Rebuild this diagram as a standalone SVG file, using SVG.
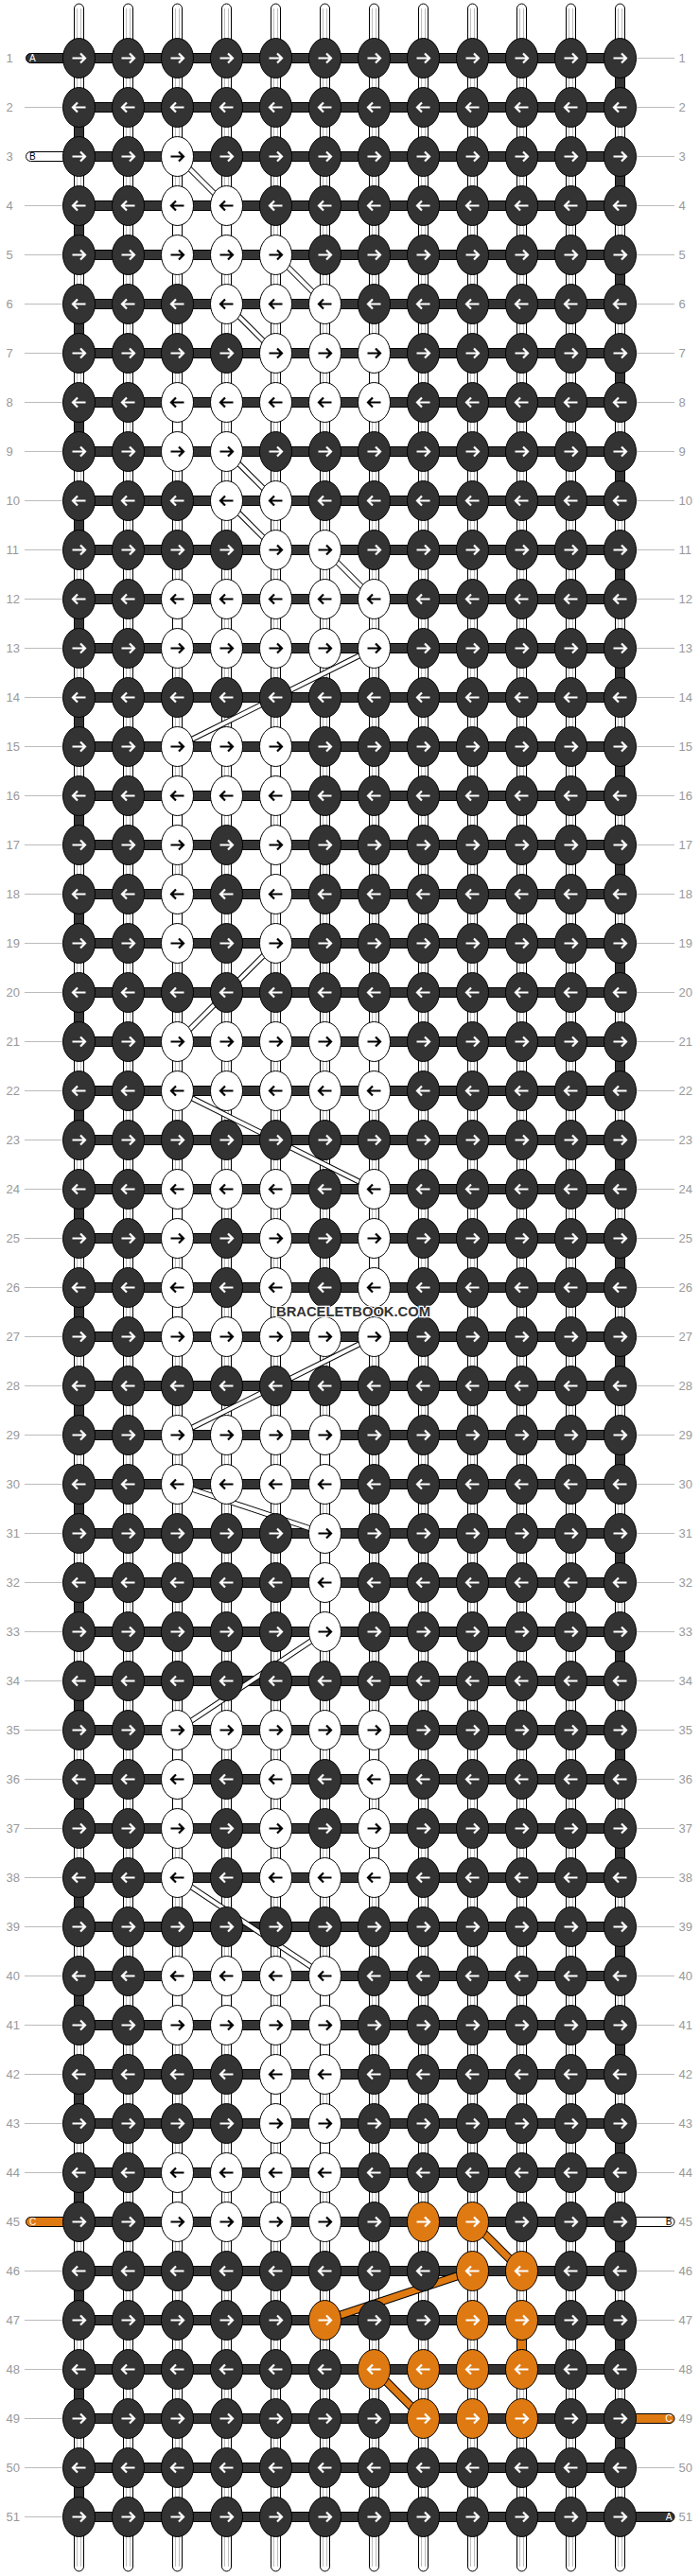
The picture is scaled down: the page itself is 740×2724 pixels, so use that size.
<svg xmlns="http://www.w3.org/2000/svg" xmlns:xlink="http://www.w3.org/1999/xlink" width="740" height="2724" viewBox="0 0 740 2724">
<style>
.tb{fill:#fff;stroke:#000}
.gl{stroke:#bdbdbd;fill:none}
.sd{fill:#333;stroke:#000}
.sw{fill:#fff;stroke:#000}
.so{fill:#df7a12;stroke:#000}
.kd{fill:#333;stroke:#000}
.kw{fill:#fff;stroke:#000}
.ko{fill:#df7a12;stroke:#000}
.aw{fill:none;stroke:#fff;stroke-width:2.2}
.ab{fill:none;stroke:#000;stroke-width:2.2}
.num{font-family:"Liberation Sans",Arial,sans-serif;font-size:13px;fill:#999}
.gr{stroke:#bbb;fill:none}
.lt{font-family:"Liberation Sans",Arial,sans-serif;font-size:10px}
.bdk{fill:none;stroke:#000;stroke-width:6}
.bwh{fill:none;stroke:#fff;stroke-width:4}
.odk{fill:none;stroke:#000;stroke-width:9}
.oor{fill:none;stroke:#df7a12;stroke-width:7}
.wm{font-family:"Liberation Sans",Arial,sans-serif;font-size:14.7px;font-weight:bold;fill:#333;stroke:#fff;stroke-width:2.5;paint-order:stroke}
</style>
<defs>
<g id="dr"><ellipse rx="17" ry="21" class="kd"/><path d="M-7,0H6M1.5,-5L6.5,0L1.5,5" class="aw"/></g>
<g id="dl"><ellipse rx="17" ry="21" class="kd"/><path d="M7,0H-6M-1.5,-5L-6.5,0L-1.5,5" class="aw"/></g>
<g id="wr"><ellipse rx="17" ry="21" class="kw"/><path d="M-7,0H6M1.5,-5L6.5,0L1.5,5" class="ab"/></g>
<g id="wl"><ellipse rx="17" ry="21" class="kw"/><path d="M7,0H-6M-1.5,-5L-6.5,0L-1.5,5" class="ab"/></g>
<g id="or"><ellipse rx="17" ry="21" class="ko"/><path d="M-7,0H6M1.5,-5L6.5,0L1.5,5" class="aw"/></g>
<g id="ol"><ellipse rx="17" ry="21" class="ko"/><path d="M7,0H-6M-1.5,-5L-6.5,0L-1.5,5" class="aw"/></g>
</defs>
<rect width="740" height="2724" fill="#fff"/>
<g id="connectors">
<g id="strings">
<rect x="78.5" y="4" width="10" height="2715" rx="5" class="tb"/>
<rect x="130.5" y="4" width="10" height="2715" rx="5" class="tb"/>
<rect x="182.5" y="4" width="10" height="2715" rx="5" class="tb"/>
<rect x="234.5" y="4" width="10" height="2715" rx="5" class="tb"/>
<rect x="286.5" y="4" width="10" height="2715" rx="5" class="tb"/>
<rect x="338.5" y="4" width="10" height="2715" rx="5" class="tb"/>
<rect x="390.5" y="4" width="10" height="2715" rx="5" class="tb"/>
<rect x="442.5" y="4" width="10" height="2715" rx="5" class="tb"/>
<rect x="494.5" y="4" width="10" height="2715" rx="5" class="tb"/>
<rect x="546.5" y="4" width="10" height="2715" rx="5" class="tb"/>
<rect x="598.5" y="4" width="10" height="2715" rx="5" class="tb"/>
<rect x="650.5" y="4" width="10" height="2715" rx="5" class="tb"/>
<path class="gl" d="M81.5,9V2714M85.5,9V2714M133.5,9V2714M137.5,9V2714M185.5,9V2714M189.5,9V2714M237.5,9V2714M241.5,9V2714M289.5,9V2714M293.5,9V2714M341.5,9V2714M345.5,9V2714M393.5,9V2714M397.5,9V2714M445.5,9V2714M449.5,9V2714M497.5,9V2714M501.5,9V2714M549.5,9V2714M553.5,9V2714M601.5,9V2714M605.5,9V2714M653.5,9V2714M657.5,9V2714"/>
</g>
<path id="turns-a" class="sd" d="M650.5,76.5h10v22h-10zM650.5,180.5h10v22h-10zM650.5,284.5h10v22h-10zM650.5,388.5h10v22h-10zM650.5,492.5h10v22h-10zM650.5,596.5h10v22h-10zM650.5,700.5h10v22h-10zM650.5,804.5h10v22h-10zM650.5,908.5h10v22h-10zM650.5,1012.5h10v22h-10zM650.5,1116.5h10v22h-10zM650.5,1220.5h10v22h-10zM650.5,1324.5h10v22h-10zM650.5,1428.5h10v22h-10zM650.5,1532.5h10v22h-10zM650.5,1636.5h10v22h-10zM650.5,1740.5h10v22h-10zM650.5,1844.5h10v22h-10zM650.5,1948.5h10v22h-10zM650.5,2052.5h10v22h-10zM650.5,2156.5h10v22h-10zM650.5,2260.5h10v22h-10zM650.5,2364.5h10v22h-10zM650.5,2468.5h10v22h-10zM650.5,2572.5h10v22h-10zM78.5,128.5h10v22h-10zM78.5,232.5h10v22h-10zM78.5,336.5h10v22h-10zM78.5,440.5h10v22h-10zM78.5,544.5h10v22h-10zM78.5,648.5h10v22h-10zM78.5,752.5h10v22h-10zM78.5,856.5h10v22h-10zM78.5,960.5h10v22h-10zM78.5,1064.5h10v22h-10zM78.5,1168.5h10v22h-10zM78.5,1272.5h10v22h-10zM78.5,1376.5h10v22h-10zM78.5,1480.5h10v22h-10zM78.5,1584.5h10v22h-10zM78.5,1688.5h10v22h-10zM78.5,1792.5h10v22h-10zM78.5,1896.5h10v22h-10zM78.5,2000.5h10v22h-10zM78.5,2104.5h10v22h-10zM78.5,2208.5h10v22h-10zM78.5,2312.5h10v22h-10zM78.5,2416.5h10v22h-10zM78.5,2520.5h10v22h-10zM78.5,2624.5h10v22h-10z"/>
<path id="carry-b" class="sw" d="M182.5,232.5h10v22h-10zM234.5,232.5h10v22h-10zM390.5,388.5h10v22h-10zM182.5,440.5h10v22h-10zM182.5,648.5h10v22h-10zM286.5,804.5h10v22h-10zM182.5,856.5h10v22h-10zM286.5,908.5h10v22h-10zM182.5,960.5h10v22h-10zM390.5,1116.5h10v22h-10zM182.5,1272.5h10v22h-10zM390.5,1324.5h10v22h-10zM182.5,1376.5h10v22h-10zM338.5,1532.5h10v22h-10zM338.5,1636.5h10v22h-10zM338.5,1688.5h10v22h-10zM182.5,1844.5h10v22h-10zM390.5,1844.5h10v22h-10zM182.5,1896.5h10v22h-10zM390.5,1948.5h10v22h-10zM182.5,2104.5h10v22h-10zM234.5,2104.5h10v22h-10zM338.5,2104.5h10v22h-10zM338.5,2156.5h10v22h-10zM286.5,2208.5h10v22h-10zM338.5,2260.5h10v22h-10zM182.5,2312.5h10v22h-10z"/>
<path id="carry-c" class="so" d="M546.5,2468.5h10v22h-10z"/>
<path id="rows-a" class="sd" d="M83.5,56.5h572v10h-572zM83.5,108.5h572v10h-572zM83.5,160.5h572v10h-572zM83.5,212.5h572v10h-572zM83.5,264.5h572v10h-572zM83.5,316.5h572v10h-572zM83.5,368.5h572v10h-572zM83.5,420.5h572v10h-572zM83.5,472.5h572v10h-572zM83.5,524.5h572v10h-572zM83.5,576.5h572v10h-572zM83.5,628.5h572v10h-572zM83.5,680.5h572v10h-572zM83.5,732.5h572v10h-572zM83.5,784.5h572v10h-572zM83.5,836.5h572v10h-572zM83.5,888.5h572v10h-572zM83.5,940.5h572v10h-572zM83.5,992.5h572v10h-572zM83.5,1044.5h572v10h-572zM83.5,1096.5h572v10h-572zM83.5,1148.5h572v10h-572zM83.5,1200.5h572v10h-572zM83.5,1252.5h572v10h-572zM83.5,1304.5h572v10h-572zM83.5,1356.5h572v10h-572zM83.5,1408.5h572v10h-572zM83.5,1460.5h572v10h-572zM83.5,1512.5h572v10h-572zM83.5,1564.5h572v10h-572zM83.5,1616.5h572v10h-572zM83.5,1668.5h572v10h-572zM83.5,1720.5h572v10h-572zM83.5,1772.5h572v10h-572zM83.5,1824.5h572v10h-572zM83.5,1876.5h572v10h-572zM83.5,1928.5h572v10h-572zM83.5,1980.5h572v10h-572zM83.5,2032.5h572v10h-572zM83.5,2084.5h572v10h-572zM83.5,2136.5h572v10h-572zM83.5,2188.5h572v10h-572zM83.5,2240.5h572v10h-572zM83.5,2292.5h572v10h-572zM83.5,2344.5h572v10h-572zM83.5,2396.5h572v10h-572zM83.5,2448.5h572v10h-572zM83.5,2500.5h572v10h-572zM83.5,2552.5h572v10h-572zM83.5,2604.5h572v10h-572zM83.5,2656.5h572v10h-572z"/>
<g id="path-b">
<path class="bdk" d="M187.5,165.5L239.5,217.5M291.5,269.5L343.5,321.5M239.5,321.5L291.5,373.5M239.5,477.5L291.5,529.5M239.5,529.5L291.5,581.5M343.5,581.5L395.5,633.5M395.5,685.5L187.5,789.5M291.5,997.5L187.5,1101.5M187.5,1153.5L395.5,1257.5M395.5,1413.5L187.5,1517.5M187.5,1569.5L343.5,1621.5M343.5,1725.5L187.5,1829.5M187.5,1985.5L343.5,2089.5"/>
<path class="bwh" d="M187.5,165.5L239.5,217.5M291.5,269.5L343.5,321.5M239.5,321.5L291.5,373.5M239.5,477.5L291.5,529.5M239.5,529.5L291.5,581.5M343.5,581.5L395.5,633.5M395.5,685.5L187.5,789.5M291.5,997.5L187.5,1101.5M187.5,1153.5L395.5,1257.5M395.5,1413.5L187.5,1517.5M187.5,1569.5L343.5,1621.5M343.5,1725.5L187.5,1829.5M187.5,1985.5L343.5,2089.5"/>
</g>
<g id="path-c">
<path class="odk" d="M499.5,2349.5L551.5,2401.5M499.5,2401.5L343.5,2453.5M395.5,2505.5L447.5,2557.5"/>
<path class="oor" d="M499.5,2349.5L551.5,2401.5M499.5,2401.5L343.5,2453.5M395.5,2505.5L447.5,2557.5"/>
</g>
<g id="labels">
<rect x="27.5" y="56.5" width="52" height="10" rx="5" class="sd"/>
<rect x="27.5" y="160.5" width="52" height="10" rx="5" class="sw"/>
<rect x="27.5" y="2344.5" width="52" height="10" rx="5" class="so"/>
<rect x="660.5" y="2344.5" width="52.5" height="10" rx="5" class="sw"/>
<rect x="660.5" y="2552.5" width="52.5" height="10" rx="5" class="so"/>
<rect x="660.5" y="2656.5" width="52.5" height="10" rx="5" class="sd"/>
</g>
<path id="leaders" class="gr" d="M26,113.5H66M26,217.5H66M26,269.5H66M26,321.5H66M26,373.5H66M26,425.5H66M26,477.5H66M26,529.5H66M26,581.5H66M26,633.5H66M26,685.5H66M26,737.5H66M26,789.5H66M26,841.5H66M26,893.5H66M26,945.5H66M26,997.5H66M26,1049.5H66M26,1101.5H66M26,1153.5H66M26,1205.5H66M26,1257.5H66M26,1309.5H66M26,1361.5H66M26,1413.5H66M26,1465.5H66M26,1517.5H66M26,1569.5H66M26,1621.5H66M26,1673.5H66M26,1725.5H66M26,1777.5H66M26,1829.5H66M26,1881.5H66M26,1933.5H66M26,1985.5H66M26,2037.5H66M26,2089.5H66M26,2141.5H66M26,2193.5H66M26,2245.5H66M26,2297.5H66M26,2401.5H66M26,2453.5H66M26,2505.5H66M26,2557.5H66M26,2609.5H66M26,2661.5H66M673,61.5H713M673,113.5H713M673,165.5H713M673,217.5H713M673,269.5H713M673,321.5H713M673,373.5H713M673,425.5H713M673,477.5H713M673,529.5H713M673,581.5H713M673,633.5H713M673,685.5H713M673,737.5H713M673,789.5H713M673,841.5H713M673,893.5H713M673,945.5H713M673,997.5H713M673,1049.5H713M673,1101.5H713M673,1153.5H713M673,1205.5H713M673,1257.5H713M673,1309.5H713M673,1361.5H713M673,1413.5H713M673,1465.5H713M673,1517.5H713M673,1569.5H713M673,1621.5H713M673,1673.5H713M673,1725.5H713M673,1777.5H713M673,1829.5H713M673,1881.5H713M673,1933.5H713M673,1985.5H713M673,2037.5H713M673,2089.5H713M673,2141.5H713M673,2193.5H713M673,2245.5H713M673,2297.5H713M673,2401.5H713M673,2453.5H713M673,2505.5H713M673,2609.5H713"/>
</g>
<g id="knots">
<g id="row1" transform="translate(0,61.5)"><use id="k1-1" href="#dr" x="83.5"/><use id="k1-2" href="#dr" x="135.5"/><use id="k1-3" href="#dr" x="187.5"/><use id="k1-4" href="#dr" x="239.5"/><use id="k1-5" href="#dr" x="291.5"/><use id="k1-6" href="#dr" x="343.5"/><use id="k1-7" href="#dr" x="395.5"/><use id="k1-8" href="#dr" x="447.5"/><use id="k1-9" href="#dr" x="499.5"/><use id="k1-10" href="#dr" x="551.5"/><use id="k1-11" href="#dr" x="603.5"/><use id="k1-12" href="#dr" x="655.5"/></g>
<g id="row2" transform="translate(0,113.5)"><use id="k2-1" href="#dl" x="83.5"/><use id="k2-2" href="#dl" x="135.5"/><use id="k2-3" href="#dl" x="187.5"/><use id="k2-4" href="#dl" x="239.5"/><use id="k2-5" href="#dl" x="291.5"/><use id="k2-6" href="#dl" x="343.5"/><use id="k2-7" href="#dl" x="395.5"/><use id="k2-8" href="#dl" x="447.5"/><use id="k2-9" href="#dl" x="499.5"/><use id="k2-10" href="#dl" x="551.5"/><use id="k2-11" href="#dl" x="603.5"/><use id="k2-12" href="#dl" x="655.5"/></g>
<g id="row3" transform="translate(0,165.5)"><use id="k3-1" href="#dr" x="83.5"/><use id="k3-2" href="#dr" x="135.5"/><use id="k3-3" href="#wr" x="187.5"/><use id="k3-4" href="#dr" x="239.5"/><use id="k3-5" href="#dr" x="291.5"/><use id="k3-6" href="#dr" x="343.5"/><use id="k3-7" href="#dr" x="395.5"/><use id="k3-8" href="#dr" x="447.5"/><use id="k3-9" href="#dr" x="499.5"/><use id="k3-10" href="#dr" x="551.5"/><use id="k3-11" href="#dr" x="603.5"/><use id="k3-12" href="#dr" x="655.5"/></g>
<g id="row4" transform="translate(0,217.5)"><use id="k4-1" href="#dl" x="83.5"/><use id="k4-2" href="#dl" x="135.5"/><use id="k4-3" href="#wl" x="187.5"/><use id="k4-4" href="#wl" x="239.5"/><use id="k4-5" href="#dl" x="291.5"/><use id="k4-6" href="#dl" x="343.5"/><use id="k4-7" href="#dl" x="395.5"/><use id="k4-8" href="#dl" x="447.5"/><use id="k4-9" href="#dl" x="499.5"/><use id="k4-10" href="#dl" x="551.5"/><use id="k4-11" href="#dl" x="603.5"/><use id="k4-12" href="#dl" x="655.5"/></g>
<g id="row5" transform="translate(0,269.5)"><use id="k5-1" href="#dr" x="83.5"/><use id="k5-2" href="#dr" x="135.5"/><use id="k5-3" href="#wr" x="187.5"/><use id="k5-4" href="#wr" x="239.5"/><use id="k5-5" href="#wr" x="291.5"/><use id="k5-6" href="#dr" x="343.5"/><use id="k5-7" href="#dr" x="395.5"/><use id="k5-8" href="#dr" x="447.5"/><use id="k5-9" href="#dr" x="499.5"/><use id="k5-10" href="#dr" x="551.5"/><use id="k5-11" href="#dr" x="603.5"/><use id="k5-12" href="#dr" x="655.5"/></g>
<g id="row6" transform="translate(0,321.5)"><use id="k6-1" href="#dl" x="83.5"/><use id="k6-2" href="#dl" x="135.5"/><use id="k6-3" href="#dl" x="187.5"/><use id="k6-4" href="#wl" x="239.5"/><use id="k6-5" href="#wl" x="291.5"/><use id="k6-6" href="#wl" x="343.5"/><use id="k6-7" href="#dl" x="395.5"/><use id="k6-8" href="#dl" x="447.5"/><use id="k6-9" href="#dl" x="499.5"/><use id="k6-10" href="#dl" x="551.5"/><use id="k6-11" href="#dl" x="603.5"/><use id="k6-12" href="#dl" x="655.5"/></g>
<g id="row7" transform="translate(0,373.5)"><use id="k7-1" href="#dr" x="83.5"/><use id="k7-2" href="#dr" x="135.5"/><use id="k7-3" href="#dr" x="187.5"/><use id="k7-4" href="#dr" x="239.5"/><use id="k7-5" href="#wr" x="291.5"/><use id="k7-6" href="#wr" x="343.5"/><use id="k7-7" href="#wr" x="395.5"/><use id="k7-8" href="#dr" x="447.5"/><use id="k7-9" href="#dr" x="499.5"/><use id="k7-10" href="#dr" x="551.5"/><use id="k7-11" href="#dr" x="603.5"/><use id="k7-12" href="#dr" x="655.5"/></g>
<g id="row8" transform="translate(0,425.5)"><use id="k8-1" href="#dl" x="83.5"/><use id="k8-2" href="#dl" x="135.5"/><use id="k8-3" href="#wl" x="187.5"/><use id="k8-4" href="#wl" x="239.5"/><use id="k8-5" href="#wl" x="291.5"/><use id="k8-6" href="#wl" x="343.5"/><use id="k8-7" href="#wl" x="395.5"/><use id="k8-8" href="#dl" x="447.5"/><use id="k8-9" href="#dl" x="499.5"/><use id="k8-10" href="#dl" x="551.5"/><use id="k8-11" href="#dl" x="603.5"/><use id="k8-12" href="#dl" x="655.5"/></g>
<g id="row9" transform="translate(0,477.5)"><use id="k9-1" href="#dr" x="83.5"/><use id="k9-2" href="#dr" x="135.5"/><use id="k9-3" href="#wr" x="187.5"/><use id="k9-4" href="#wr" x="239.5"/><use id="k9-5" href="#dr" x="291.5"/><use id="k9-6" href="#dr" x="343.5"/><use id="k9-7" href="#dr" x="395.5"/><use id="k9-8" href="#dr" x="447.5"/><use id="k9-9" href="#dr" x="499.5"/><use id="k9-10" href="#dr" x="551.5"/><use id="k9-11" href="#dr" x="603.5"/><use id="k9-12" href="#dr" x="655.5"/></g>
<g id="row10" transform="translate(0,529.5)"><use id="k10-1" href="#dl" x="83.5"/><use id="k10-2" href="#dl" x="135.5"/><use id="k10-3" href="#dl" x="187.5"/><use id="k10-4" href="#wl" x="239.5"/><use id="k10-5" href="#wl" x="291.5"/><use id="k10-6" href="#dl" x="343.5"/><use id="k10-7" href="#dl" x="395.5"/><use id="k10-8" href="#dl" x="447.5"/><use id="k10-9" href="#dl" x="499.5"/><use id="k10-10" href="#dl" x="551.5"/><use id="k10-11" href="#dl" x="603.5"/><use id="k10-12" href="#dl" x="655.5"/></g>
<g id="row11" transform="translate(0,581.5)"><use id="k11-1" href="#dr" x="83.5"/><use id="k11-2" href="#dr" x="135.5"/><use id="k11-3" href="#dr" x="187.5"/><use id="k11-4" href="#dr" x="239.5"/><use id="k11-5" href="#wr" x="291.5"/><use id="k11-6" href="#wr" x="343.5"/><use id="k11-7" href="#dr" x="395.5"/><use id="k11-8" href="#dr" x="447.5"/><use id="k11-9" href="#dr" x="499.5"/><use id="k11-10" href="#dr" x="551.5"/><use id="k11-11" href="#dr" x="603.5"/><use id="k11-12" href="#dr" x="655.5"/></g>
<g id="row12" transform="translate(0,633.5)"><use id="k12-1" href="#dl" x="83.5"/><use id="k12-2" href="#dl" x="135.5"/><use id="k12-3" href="#wl" x="187.5"/><use id="k12-4" href="#wl" x="239.5"/><use id="k12-5" href="#wl" x="291.5"/><use id="k12-6" href="#wl" x="343.5"/><use id="k12-7" href="#wl" x="395.5"/><use id="k12-8" href="#dl" x="447.5"/><use id="k12-9" href="#dl" x="499.5"/><use id="k12-10" href="#dl" x="551.5"/><use id="k12-11" href="#dl" x="603.5"/><use id="k12-12" href="#dl" x="655.5"/></g>
<g id="row13" transform="translate(0,685.5)"><use id="k13-1" href="#dr" x="83.5"/><use id="k13-2" href="#dr" x="135.5"/><use id="k13-3" href="#wr" x="187.5"/><use id="k13-4" href="#wr" x="239.5"/><use id="k13-5" href="#wr" x="291.5"/><use id="k13-6" href="#wr" x="343.5"/><use id="k13-7" href="#wr" x="395.5"/><use id="k13-8" href="#dr" x="447.5"/><use id="k13-9" href="#dr" x="499.5"/><use id="k13-10" href="#dr" x="551.5"/><use id="k13-11" href="#dr" x="603.5"/><use id="k13-12" href="#dr" x="655.5"/></g>
<g id="row14" transform="translate(0,737.5)"><use id="k14-1" href="#dl" x="83.5"/><use id="k14-2" href="#dl" x="135.5"/><use id="k14-3" href="#dl" x="187.5"/><use id="k14-4" href="#dl" x="239.5"/><use id="k14-5" href="#dl" x="291.5"/><use id="k14-6" href="#dl" x="343.5"/><use id="k14-7" href="#dl" x="395.5"/><use id="k14-8" href="#dl" x="447.5"/><use id="k14-9" href="#dl" x="499.5"/><use id="k14-10" href="#dl" x="551.5"/><use id="k14-11" href="#dl" x="603.5"/><use id="k14-12" href="#dl" x="655.5"/></g>
<g id="row15" transform="translate(0,789.5)"><use id="k15-1" href="#dr" x="83.5"/><use id="k15-2" href="#dr" x="135.5"/><use id="k15-3" href="#wr" x="187.5"/><use id="k15-4" href="#wr" x="239.5"/><use id="k15-5" href="#wr" x="291.5"/><use id="k15-6" href="#dr" x="343.5"/><use id="k15-7" href="#dr" x="395.5"/><use id="k15-8" href="#dr" x="447.5"/><use id="k15-9" href="#dr" x="499.5"/><use id="k15-10" href="#dr" x="551.5"/><use id="k15-11" href="#dr" x="603.5"/><use id="k15-12" href="#dr" x="655.5"/></g>
<g id="row16" transform="translate(0,841.5)"><use id="k16-1" href="#dl" x="83.5"/><use id="k16-2" href="#dl" x="135.5"/><use id="k16-3" href="#wl" x="187.5"/><use id="k16-4" href="#wl" x="239.5"/><use id="k16-5" href="#wl" x="291.5"/><use id="k16-6" href="#dl" x="343.5"/><use id="k16-7" href="#dl" x="395.5"/><use id="k16-8" href="#dl" x="447.5"/><use id="k16-9" href="#dl" x="499.5"/><use id="k16-10" href="#dl" x="551.5"/><use id="k16-11" href="#dl" x="603.5"/><use id="k16-12" href="#dl" x="655.5"/></g>
<g id="row17" transform="translate(0,893.5)"><use id="k17-1" href="#dr" x="83.5"/><use id="k17-2" href="#dr" x="135.5"/><use id="k17-3" href="#wr" x="187.5"/><use id="k17-4" href="#dr" x="239.5"/><use id="k17-5" href="#wr" x="291.5"/><use id="k17-6" href="#dr" x="343.5"/><use id="k17-7" href="#dr" x="395.5"/><use id="k17-8" href="#dr" x="447.5"/><use id="k17-9" href="#dr" x="499.5"/><use id="k17-10" href="#dr" x="551.5"/><use id="k17-11" href="#dr" x="603.5"/><use id="k17-12" href="#dr" x="655.5"/></g>
<g id="row18" transform="translate(0,945.5)"><use id="k18-1" href="#dl" x="83.5"/><use id="k18-2" href="#dl" x="135.5"/><use id="k18-3" href="#wl" x="187.5"/><use id="k18-4" href="#dl" x="239.5"/><use id="k18-5" href="#wl" x="291.5"/><use id="k18-6" href="#dl" x="343.5"/><use id="k18-7" href="#dl" x="395.5"/><use id="k18-8" href="#dl" x="447.5"/><use id="k18-9" href="#dl" x="499.5"/><use id="k18-10" href="#dl" x="551.5"/><use id="k18-11" href="#dl" x="603.5"/><use id="k18-12" href="#dl" x="655.5"/></g>
<g id="row19" transform="translate(0,997.5)"><use id="k19-1" href="#dr" x="83.5"/><use id="k19-2" href="#dr" x="135.5"/><use id="k19-3" href="#wr" x="187.5"/><use id="k19-4" href="#dr" x="239.5"/><use id="k19-5" href="#wr" x="291.5"/><use id="k19-6" href="#dr" x="343.5"/><use id="k19-7" href="#dr" x="395.5"/><use id="k19-8" href="#dr" x="447.5"/><use id="k19-9" href="#dr" x="499.5"/><use id="k19-10" href="#dr" x="551.5"/><use id="k19-11" href="#dr" x="603.5"/><use id="k19-12" href="#dr" x="655.5"/></g>
<g id="row20" transform="translate(0,1049.5)"><use id="k20-1" href="#dl" x="83.5"/><use id="k20-2" href="#dl" x="135.5"/><use id="k20-3" href="#dl" x="187.5"/><use id="k20-4" href="#dl" x="239.5"/><use id="k20-5" href="#dl" x="291.5"/><use id="k20-6" href="#dl" x="343.5"/><use id="k20-7" href="#dl" x="395.5"/><use id="k20-8" href="#dl" x="447.5"/><use id="k20-9" href="#dl" x="499.5"/><use id="k20-10" href="#dl" x="551.5"/><use id="k20-11" href="#dl" x="603.5"/><use id="k20-12" href="#dl" x="655.5"/></g>
<g id="row21" transform="translate(0,1101.5)"><use id="k21-1" href="#dr" x="83.5"/><use id="k21-2" href="#dr" x="135.5"/><use id="k21-3" href="#wr" x="187.5"/><use id="k21-4" href="#wr" x="239.5"/><use id="k21-5" href="#wr" x="291.5"/><use id="k21-6" href="#wr" x="343.5"/><use id="k21-7" href="#wr" x="395.5"/><use id="k21-8" href="#dr" x="447.5"/><use id="k21-9" href="#dr" x="499.5"/><use id="k21-10" href="#dr" x="551.5"/><use id="k21-11" href="#dr" x="603.5"/><use id="k21-12" href="#dr" x="655.5"/></g>
<g id="row22" transform="translate(0,1153.5)"><use id="k22-1" href="#dl" x="83.5"/><use id="k22-2" href="#dl" x="135.5"/><use id="k22-3" href="#wl" x="187.5"/><use id="k22-4" href="#wl" x="239.5"/><use id="k22-5" href="#wl" x="291.5"/><use id="k22-6" href="#wl" x="343.5"/><use id="k22-7" href="#wl" x="395.5"/><use id="k22-8" href="#dl" x="447.5"/><use id="k22-9" href="#dl" x="499.5"/><use id="k22-10" href="#dl" x="551.5"/><use id="k22-11" href="#dl" x="603.5"/><use id="k22-12" href="#dl" x="655.5"/></g>
<g id="row23" transform="translate(0,1205.5)"><use id="k23-1" href="#dr" x="83.5"/><use id="k23-2" href="#dr" x="135.5"/><use id="k23-3" href="#dr" x="187.5"/><use id="k23-4" href="#dr" x="239.5"/><use id="k23-5" href="#dr" x="291.5"/><use id="k23-6" href="#dr" x="343.5"/><use id="k23-7" href="#dr" x="395.5"/><use id="k23-8" href="#dr" x="447.5"/><use id="k23-9" href="#dr" x="499.5"/><use id="k23-10" href="#dr" x="551.5"/><use id="k23-11" href="#dr" x="603.5"/><use id="k23-12" href="#dr" x="655.5"/></g>
<g id="row24" transform="translate(0,1257.5)"><use id="k24-1" href="#dl" x="83.5"/><use id="k24-2" href="#dl" x="135.5"/><use id="k24-3" href="#wl" x="187.5"/><use id="k24-4" href="#wl" x="239.5"/><use id="k24-5" href="#wl" x="291.5"/><use id="k24-6" href="#dl" x="343.5"/><use id="k24-7" href="#wl" x="395.5"/><use id="k24-8" href="#dl" x="447.5"/><use id="k24-9" href="#dl" x="499.5"/><use id="k24-10" href="#dl" x="551.5"/><use id="k24-11" href="#dl" x="603.5"/><use id="k24-12" href="#dl" x="655.5"/></g>
<g id="row25" transform="translate(0,1309.5)"><use id="k25-1" href="#dr" x="83.5"/><use id="k25-2" href="#dr" x="135.5"/><use id="k25-3" href="#wr" x="187.5"/><use id="k25-4" href="#dr" x="239.5"/><use id="k25-5" href="#wr" x="291.5"/><use id="k25-6" href="#dr" x="343.5"/><use id="k25-7" href="#wr" x="395.5"/><use id="k25-8" href="#dr" x="447.5"/><use id="k25-9" href="#dr" x="499.5"/><use id="k25-10" href="#dr" x="551.5"/><use id="k25-11" href="#dr" x="603.5"/><use id="k25-12" href="#dr" x="655.5"/></g>
<g id="row26" transform="translate(0,1361.5)"><use id="k26-1" href="#dl" x="83.5"/><use id="k26-2" href="#dl" x="135.5"/><use id="k26-3" href="#wl" x="187.5"/><use id="k26-4" href="#dl" x="239.5"/><use id="k26-5" href="#wl" x="291.5"/><use id="k26-6" href="#dl" x="343.5"/><use id="k26-7" href="#wl" x="395.5"/><use id="k26-8" href="#dl" x="447.5"/><use id="k26-9" href="#dl" x="499.5"/><use id="k26-10" href="#dl" x="551.5"/><use id="k26-11" href="#dl" x="603.5"/><use id="k26-12" href="#dl" x="655.5"/></g>
<g id="row27" transform="translate(0,1413.5)"><use id="k27-1" href="#dr" x="83.5"/><use id="k27-2" href="#dr" x="135.5"/><use id="k27-3" href="#wr" x="187.5"/><use id="k27-4" href="#wr" x="239.5"/><use id="k27-5" href="#wr" x="291.5"/><use id="k27-6" href="#wr" x="343.5"/><use id="k27-7" href="#wr" x="395.5"/><use id="k27-8" href="#dr" x="447.5"/><use id="k27-9" href="#dr" x="499.5"/><use id="k27-10" href="#dr" x="551.5"/><use id="k27-11" href="#dr" x="603.5"/><use id="k27-12" href="#dr" x="655.5"/></g>
<g id="row28" transform="translate(0,1465.5)"><use id="k28-1" href="#dl" x="83.5"/><use id="k28-2" href="#dl" x="135.5"/><use id="k28-3" href="#dl" x="187.5"/><use id="k28-4" href="#dl" x="239.5"/><use id="k28-5" href="#dl" x="291.5"/><use id="k28-6" href="#dl" x="343.5"/><use id="k28-7" href="#dl" x="395.5"/><use id="k28-8" href="#dl" x="447.5"/><use id="k28-9" href="#dl" x="499.5"/><use id="k28-10" href="#dl" x="551.5"/><use id="k28-11" href="#dl" x="603.5"/><use id="k28-12" href="#dl" x="655.5"/></g>
<g id="row29" transform="translate(0,1517.5)"><use id="k29-1" href="#dr" x="83.5"/><use id="k29-2" href="#dr" x="135.5"/><use id="k29-3" href="#wr" x="187.5"/><use id="k29-4" href="#wr" x="239.5"/><use id="k29-5" href="#wr" x="291.5"/><use id="k29-6" href="#wr" x="343.5"/><use id="k29-7" href="#dr" x="395.5"/><use id="k29-8" href="#dr" x="447.5"/><use id="k29-9" href="#dr" x="499.5"/><use id="k29-10" href="#dr" x="551.5"/><use id="k29-11" href="#dr" x="603.5"/><use id="k29-12" href="#dr" x="655.5"/></g>
<g id="row30" transform="translate(0,1569.5)"><use id="k30-1" href="#dl" x="83.5"/><use id="k30-2" href="#dl" x="135.5"/><use id="k30-3" href="#wl" x="187.5"/><use id="k30-4" href="#wl" x="239.5"/><use id="k30-5" href="#wl" x="291.5"/><use id="k30-6" href="#wl" x="343.5"/><use id="k30-7" href="#dl" x="395.5"/><use id="k30-8" href="#dl" x="447.5"/><use id="k30-9" href="#dl" x="499.5"/><use id="k30-10" href="#dl" x="551.5"/><use id="k30-11" href="#dl" x="603.5"/><use id="k30-12" href="#dl" x="655.5"/></g>
<g id="row31" transform="translate(0,1621.5)"><use id="k31-1" href="#dr" x="83.5"/><use id="k31-2" href="#dr" x="135.5"/><use id="k31-3" href="#dr" x="187.5"/><use id="k31-4" href="#dr" x="239.5"/><use id="k31-5" href="#dr" x="291.5"/><use id="k31-6" href="#wr" x="343.5"/><use id="k31-7" href="#dr" x="395.5"/><use id="k31-8" href="#dr" x="447.5"/><use id="k31-9" href="#dr" x="499.5"/><use id="k31-10" href="#dr" x="551.5"/><use id="k31-11" href="#dr" x="603.5"/><use id="k31-12" href="#dr" x="655.5"/></g>
<g id="row32" transform="translate(0,1673.5)"><use id="k32-1" href="#dl" x="83.5"/><use id="k32-2" href="#dl" x="135.5"/><use id="k32-3" href="#dl" x="187.5"/><use id="k32-4" href="#dl" x="239.5"/><use id="k32-5" href="#dl" x="291.5"/><use id="k32-6" href="#wl" x="343.5"/><use id="k32-7" href="#dl" x="395.5"/><use id="k32-8" href="#dl" x="447.5"/><use id="k32-9" href="#dl" x="499.5"/><use id="k32-10" href="#dl" x="551.5"/><use id="k32-11" href="#dl" x="603.5"/><use id="k32-12" href="#dl" x="655.5"/></g>
<g id="row33" transform="translate(0,1725.5)"><use id="k33-1" href="#dr" x="83.5"/><use id="k33-2" href="#dr" x="135.5"/><use id="k33-3" href="#dr" x="187.5"/><use id="k33-4" href="#dr" x="239.5"/><use id="k33-5" href="#dr" x="291.5"/><use id="k33-6" href="#wr" x="343.5"/><use id="k33-7" href="#dr" x="395.5"/><use id="k33-8" href="#dr" x="447.5"/><use id="k33-9" href="#dr" x="499.5"/><use id="k33-10" href="#dr" x="551.5"/><use id="k33-11" href="#dr" x="603.5"/><use id="k33-12" href="#dr" x="655.5"/></g>
<g id="row34" transform="translate(0,1777.5)"><use id="k34-1" href="#dl" x="83.5"/><use id="k34-2" href="#dl" x="135.5"/><use id="k34-3" href="#dl" x="187.5"/><use id="k34-4" href="#dl" x="239.5"/><use id="k34-5" href="#dl" x="291.5"/><use id="k34-6" href="#dl" x="343.5"/><use id="k34-7" href="#dl" x="395.5"/><use id="k34-8" href="#dl" x="447.5"/><use id="k34-9" href="#dl" x="499.5"/><use id="k34-10" href="#dl" x="551.5"/><use id="k34-11" href="#dl" x="603.5"/><use id="k34-12" href="#dl" x="655.5"/></g>
<g id="row35" transform="translate(0,1829.5)"><use id="k35-1" href="#dr" x="83.5"/><use id="k35-2" href="#dr" x="135.5"/><use id="k35-3" href="#wr" x="187.5"/><use id="k35-4" href="#wr" x="239.5"/><use id="k35-5" href="#wr" x="291.5"/><use id="k35-6" href="#wr" x="343.5"/><use id="k35-7" href="#wr" x="395.5"/><use id="k35-8" href="#dr" x="447.5"/><use id="k35-9" href="#dr" x="499.5"/><use id="k35-10" href="#dr" x="551.5"/><use id="k35-11" href="#dr" x="603.5"/><use id="k35-12" href="#dr" x="655.5"/></g>
<g id="row36" transform="translate(0,1881.5)"><use id="k36-1" href="#dl" x="83.5"/><use id="k36-2" href="#dl" x="135.5"/><use id="k36-3" href="#wl" x="187.5"/><use id="k36-4" href="#dl" x="239.5"/><use id="k36-5" href="#wl" x="291.5"/><use id="k36-6" href="#dl" x="343.5"/><use id="k36-7" href="#wl" x="395.5"/><use id="k36-8" href="#dl" x="447.5"/><use id="k36-9" href="#dl" x="499.5"/><use id="k36-10" href="#dl" x="551.5"/><use id="k36-11" href="#dl" x="603.5"/><use id="k36-12" href="#dl" x="655.5"/></g>
<g id="row37" transform="translate(0,1933.5)"><use id="k37-1" href="#dr" x="83.5"/><use id="k37-2" href="#dr" x="135.5"/><use id="k37-3" href="#wr" x="187.5"/><use id="k37-4" href="#dr" x="239.5"/><use id="k37-5" href="#wr" x="291.5"/><use id="k37-6" href="#dr" x="343.5"/><use id="k37-7" href="#wr" x="395.5"/><use id="k37-8" href="#dr" x="447.5"/><use id="k37-9" href="#dr" x="499.5"/><use id="k37-10" href="#dr" x="551.5"/><use id="k37-11" href="#dr" x="603.5"/><use id="k37-12" href="#dr" x="655.5"/></g>
<g id="row38" transform="translate(0,1985.5)"><use id="k38-1" href="#dl" x="83.5"/><use id="k38-2" href="#dl" x="135.5"/><use id="k38-3" href="#wl" x="187.5"/><use id="k38-4" href="#dl" x="239.5"/><use id="k38-5" href="#wl" x="291.5"/><use id="k38-6" href="#wl" x="343.5"/><use id="k38-7" href="#wl" x="395.5"/><use id="k38-8" href="#dl" x="447.5"/><use id="k38-9" href="#dl" x="499.5"/><use id="k38-10" href="#dl" x="551.5"/><use id="k38-11" href="#dl" x="603.5"/><use id="k38-12" href="#dl" x="655.5"/></g>
<g id="row39" transform="translate(0,2037.5)"><use id="k39-1" href="#dr" x="83.5"/><use id="k39-2" href="#dr" x="135.5"/><use id="k39-3" href="#dr" x="187.5"/><use id="k39-4" href="#dr" x="239.5"/><use id="k39-5" href="#dr" x="291.5"/><use id="k39-6" href="#dr" x="343.5"/><use id="k39-7" href="#dr" x="395.5"/><use id="k39-8" href="#dr" x="447.5"/><use id="k39-9" href="#dr" x="499.5"/><use id="k39-10" href="#dr" x="551.5"/><use id="k39-11" href="#dr" x="603.5"/><use id="k39-12" href="#dr" x="655.5"/></g>
<g id="row40" transform="translate(0,2089.5)"><use id="k40-1" href="#dl" x="83.5"/><use id="k40-2" href="#dl" x="135.5"/><use id="k40-3" href="#wl" x="187.5"/><use id="k40-4" href="#wl" x="239.5"/><use id="k40-5" href="#wl" x="291.5"/><use id="k40-6" href="#wl" x="343.5"/><use id="k40-7" href="#dl" x="395.5"/><use id="k40-8" href="#dl" x="447.5"/><use id="k40-9" href="#dl" x="499.5"/><use id="k40-10" href="#dl" x="551.5"/><use id="k40-11" href="#dl" x="603.5"/><use id="k40-12" href="#dl" x="655.5"/></g>
<g id="row41" transform="translate(0,2141.5)"><use id="k41-1" href="#dr" x="83.5"/><use id="k41-2" href="#dr" x="135.5"/><use id="k41-3" href="#wr" x="187.5"/><use id="k41-4" href="#wr" x="239.5"/><use id="k41-5" href="#wr" x="291.5"/><use id="k41-6" href="#wr" x="343.5"/><use id="k41-7" href="#dr" x="395.5"/><use id="k41-8" href="#dr" x="447.5"/><use id="k41-9" href="#dr" x="499.5"/><use id="k41-10" href="#dr" x="551.5"/><use id="k41-11" href="#dr" x="603.5"/><use id="k41-12" href="#dr" x="655.5"/></g>
<g id="row42" transform="translate(0,2193.5)"><use id="k42-1" href="#dl" x="83.5"/><use id="k42-2" href="#dl" x="135.5"/><use id="k42-3" href="#dl" x="187.5"/><use id="k42-4" href="#dl" x="239.5"/><use id="k42-5" href="#wl" x="291.5"/><use id="k42-6" href="#wl" x="343.5"/><use id="k42-7" href="#dl" x="395.5"/><use id="k42-8" href="#dl" x="447.5"/><use id="k42-9" href="#dl" x="499.5"/><use id="k42-10" href="#dl" x="551.5"/><use id="k42-11" href="#dl" x="603.5"/><use id="k42-12" href="#dl" x="655.5"/></g>
<g id="row43" transform="translate(0,2245.5)"><use id="k43-1" href="#dr" x="83.5"/><use id="k43-2" href="#dr" x="135.5"/><use id="k43-3" href="#dr" x="187.5"/><use id="k43-4" href="#dr" x="239.5"/><use id="k43-5" href="#wr" x="291.5"/><use id="k43-6" href="#wr" x="343.5"/><use id="k43-7" href="#dr" x="395.5"/><use id="k43-8" href="#dr" x="447.5"/><use id="k43-9" href="#dr" x="499.5"/><use id="k43-10" href="#dr" x="551.5"/><use id="k43-11" href="#dr" x="603.5"/><use id="k43-12" href="#dr" x="655.5"/></g>
<g id="row44" transform="translate(0,2297.5)"><use id="k44-1" href="#dl" x="83.5"/><use id="k44-2" href="#dl" x="135.5"/><use id="k44-3" href="#wl" x="187.5"/><use id="k44-4" href="#wl" x="239.5"/><use id="k44-5" href="#wl" x="291.5"/><use id="k44-6" href="#wl" x="343.5"/><use id="k44-7" href="#dl" x="395.5"/><use id="k44-8" href="#dl" x="447.5"/><use id="k44-9" href="#dl" x="499.5"/><use id="k44-10" href="#dl" x="551.5"/><use id="k44-11" href="#dl" x="603.5"/><use id="k44-12" href="#dl" x="655.5"/></g>
<g id="row45" transform="translate(0,2349.5)"><use id="k45-1" href="#dr" x="83.5"/><use id="k45-2" href="#dr" x="135.5"/><use id="k45-3" href="#wr" x="187.5"/><use id="k45-4" href="#wr" x="239.5"/><use id="k45-5" href="#wr" x="291.5"/><use id="k45-6" href="#wr" x="343.5"/><use id="k45-7" href="#dr" x="395.5"/><use id="k45-8" href="#or" x="447.5"/><use id="k45-9" href="#or" x="499.5"/><use id="k45-10" href="#dr" x="551.5"/><use id="k45-11" href="#dr" x="603.5"/><use id="k45-12" href="#dr" x="655.5"/></g>
<g id="row46" transform="translate(0,2401.5)"><use id="k46-1" href="#dl" x="83.5"/><use id="k46-2" href="#dl" x="135.5"/><use id="k46-3" href="#dl" x="187.5"/><use id="k46-4" href="#dl" x="239.5"/><use id="k46-5" href="#dl" x="291.5"/><use id="k46-6" href="#dl" x="343.5"/><use id="k46-7" href="#dl" x="395.5"/><use id="k46-8" href="#dl" x="447.5"/><use id="k46-9" href="#ol" x="499.5"/><use id="k46-10" href="#ol" x="551.5"/><use id="k46-11" href="#dl" x="603.5"/><use id="k46-12" href="#dl" x="655.5"/></g>
<g id="row47" transform="translate(0,2453.5)"><use id="k47-1" href="#dr" x="83.5"/><use id="k47-2" href="#dr" x="135.5"/><use id="k47-3" href="#dr" x="187.5"/><use id="k47-4" href="#dr" x="239.5"/><use id="k47-5" href="#dr" x="291.5"/><use id="k47-6" href="#or" x="343.5"/><use id="k47-7" href="#dr" x="395.5"/><use id="k47-8" href="#dr" x="447.5"/><use id="k47-9" href="#or" x="499.5"/><use id="k47-10" href="#or" x="551.5"/><use id="k47-11" href="#dr" x="603.5"/><use id="k47-12" href="#dr" x="655.5"/></g>
<g id="row48" transform="translate(0,2505.5)"><use id="k48-1" href="#dl" x="83.5"/><use id="k48-2" href="#dl" x="135.5"/><use id="k48-3" href="#dl" x="187.5"/><use id="k48-4" href="#dl" x="239.5"/><use id="k48-5" href="#dl" x="291.5"/><use id="k48-6" href="#dl" x="343.5"/><use id="k48-7" href="#ol" x="395.5"/><use id="k48-8" href="#ol" x="447.5"/><use id="k48-9" href="#ol" x="499.5"/><use id="k48-10" href="#ol" x="551.5"/><use id="k48-11" href="#dl" x="603.5"/><use id="k48-12" href="#dl" x="655.5"/></g>
<g id="row49" transform="translate(0,2557.5)"><use id="k49-1" href="#dr" x="83.5"/><use id="k49-2" href="#dr" x="135.5"/><use id="k49-3" href="#dr" x="187.5"/><use id="k49-4" href="#dr" x="239.5"/><use id="k49-5" href="#dr" x="291.5"/><use id="k49-6" href="#dr" x="343.5"/><use id="k49-7" href="#dr" x="395.5"/><use id="k49-8" href="#or" x="447.5"/><use id="k49-9" href="#or" x="499.5"/><use id="k49-10" href="#or" x="551.5"/><use id="k49-11" href="#dr" x="603.5"/><use id="k49-12" href="#dr" x="655.5"/></g>
<g id="row50" transform="translate(0,2609.5)"><use id="k50-1" href="#dl" x="83.5"/><use id="k50-2" href="#dl" x="135.5"/><use id="k50-3" href="#dl" x="187.5"/><use id="k50-4" href="#dl" x="239.5"/><use id="k50-5" href="#dl" x="291.5"/><use id="k50-6" href="#dl" x="343.5"/><use id="k50-7" href="#dl" x="395.5"/><use id="k50-8" href="#dl" x="447.5"/><use id="k50-9" href="#dl" x="499.5"/><use id="k50-10" href="#dl" x="551.5"/><use id="k50-11" href="#dl" x="603.5"/><use id="k50-12" href="#dl" x="655.5"/></g>
<g id="row51" transform="translate(0,2661.5)"><use id="k51-1" href="#dr" x="83.5"/><use id="k51-2" href="#dr" x="135.5"/><use id="k51-3" href="#dr" x="187.5"/><use id="k51-4" href="#dr" x="239.5"/><use id="k51-5" href="#dr" x="291.5"/><use id="k51-6" href="#dr" x="343.5"/><use id="k51-7" href="#dr" x="395.5"/><use id="k51-8" href="#dr" x="447.5"/><use id="k51-9" href="#dr" x="499.5"/><use id="k51-10" href="#dr" x="551.5"/><use id="k51-11" href="#dr" x="603.5"/><use id="k51-12" href="#dr" x="655.5"/></g>
</g>
<g id="label-text" class="lt">
<text x="31" y="65" fill="#fff">A</text>
<text x="31" y="169" fill="#000">B</text>
<text x="31" y="2353" fill="#fff">C</text>
<text x="710.5" y="2353" fill="#000" text-anchor="end">B</text>
<text x="710.5" y="2561" fill="#fff" text-anchor="end">C</text>
<text x="710.5" y="2665" fill="#fff" text-anchor="end">A</text>
</g>
<g id="row-numbers-left" class="num">
<text x="6.5" y="66">1</text><text x="6.5" y="118">2</text><text x="6.5" y="170">3</text><text x="6.5" y="222">4</text><text x="6.5" y="274">5</text><text x="6.5" y="326">6</text><text x="6.5" y="378">7</text><text x="6.5" y="430">8</text><text x="6.5" y="482">9</text><text x="6.5" y="534">10</text><text x="6.5" y="586">11</text><text x="6.5" y="638">12</text><text x="6.5" y="690">13</text><text x="6.5" y="742">14</text><text x="6.5" y="794">15</text><text x="6.5" y="846">16</text><text x="6.5" y="898">17</text><text x="6.5" y="950">18</text><text x="6.5" y="1002">19</text><text x="6.5" y="1054">20</text><text x="6.5" y="1106">21</text><text x="6.5" y="1158">22</text><text x="6.5" y="1210">23</text><text x="6.5" y="1262">24</text><text x="6.5" y="1314">25</text><text x="6.5" y="1366">26</text><text x="6.5" y="1418">27</text><text x="6.5" y="1470">28</text><text x="6.5" y="1522">29</text><text x="6.5" y="1574">30</text><text x="6.5" y="1626">31</text><text x="6.5" y="1678">32</text><text x="6.5" y="1730">33</text><text x="6.5" y="1782">34</text><text x="6.5" y="1834">35</text><text x="6.5" y="1886">36</text><text x="6.5" y="1938">37</text><text x="6.5" y="1990">38</text><text x="6.5" y="2042">39</text><text x="6.5" y="2094">40</text><text x="6.5" y="2146">41</text><text x="6.5" y="2198">42</text><text x="6.5" y="2250">43</text><text x="6.5" y="2302">44</text><text x="6.5" y="2354">45</text><text x="6.5" y="2406">46</text><text x="6.5" y="2458">47</text><text x="6.5" y="2510">48</text><text x="6.5" y="2562">49</text><text x="6.5" y="2614">50</text><text x="6.5" y="2666">51</text>
</g>
<g id="row-numbers-right" class="num">
<text x="717.5" y="66">1</text><text x="717.5" y="118">2</text><text x="717.5" y="170">3</text><text x="717.5" y="222">4</text><text x="717.5" y="274">5</text><text x="717.5" y="326">6</text><text x="717.5" y="378">7</text><text x="717.5" y="430">8</text><text x="717.5" y="482">9</text><text x="717.5" y="534">10</text><text x="717.5" y="586">11</text><text x="717.5" y="638">12</text><text x="717.5" y="690">13</text><text x="717.5" y="742">14</text><text x="717.5" y="794">15</text><text x="717.5" y="846">16</text><text x="717.5" y="898">17</text><text x="717.5" y="950">18</text><text x="717.5" y="1002">19</text><text x="717.5" y="1054">20</text><text x="717.5" y="1106">21</text><text x="717.5" y="1158">22</text><text x="717.5" y="1210">23</text><text x="717.5" y="1262">24</text><text x="717.5" y="1314">25</text><text x="717.5" y="1366">26</text><text x="717.5" y="1418">27</text><text x="717.5" y="1470">28</text><text x="717.5" y="1522">29</text><text x="717.5" y="1574">30</text><text x="717.5" y="1626">31</text><text x="717.5" y="1678">32</text><text x="717.5" y="1730">33</text><text x="717.5" y="1782">34</text><text x="717.5" y="1834">35</text><text x="717.5" y="1886">36</text><text x="717.5" y="1938">37</text><text x="717.5" y="1990">38</text><text x="717.5" y="2042">39</text><text x="717.5" y="2094">40</text><text x="717.5" y="2146">41</text><text x="717.5" y="2198">42</text><text x="717.5" y="2250">43</text><text x="717.5" y="2302">44</text><text x="717.5" y="2354">45</text><text x="717.5" y="2406">46</text><text x="717.5" y="2458">47</text><text x="717.5" y="2510">48</text><text x="717.5" y="2562">49</text><text x="717.5" y="2614">50</text><text x="717.5" y="2666">51</text>
</g>
<text id="watermark" class="wm" x="292" y="1392" textLength="163" lengthAdjust="spacingAndGlyphs">BRACELETBOOK.COM</text>
</svg>
